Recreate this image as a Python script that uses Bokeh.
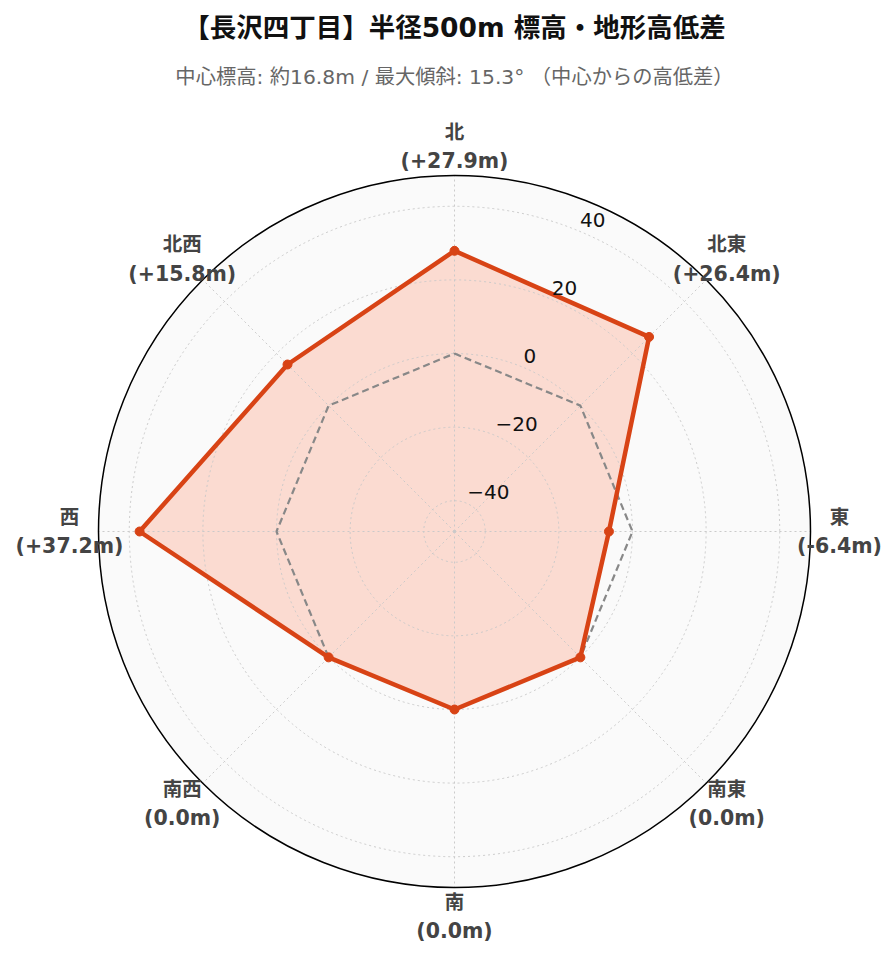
import numpy as np
from bokeh.plotting import figure
from bokeh.models import Range1d
from bokeh.embed import file_html
from bokeh.resources import INLINE
from bokeh.core.properties import value

# ---------------- data ----------------
title_text = "【長沢四丁目】半径500m 標高・地形高低差"
subtitle_text = "中心標高: 約16.8m / 最大傾斜: 15.3° （中心からの高低差）"
directions = ["北", "北東", "東", "南東", "南", "南西", "西", "北西"]
elev_diff = [27.9, 26.4, -6.4, 0.0, 0.0, 0.0, 37.2, 15.8]
zero_ref = [0.0] * 8
radial_ticks = [-40, -20, 0, 20, 40]
radial_tick_labels = ["−40", "−20", "0", "20", "40"]

# ---------------- layout ----------------
RMAX = 48.36
RMIN = -48.36
W, H = 892, 958
CX, CY = 454, 531          # polar centre in canvas px (from top-left)
R_PX = 356                 # outer radius in px
SPAN = RMAX - RMIN
S = R_PX / SPAN            # px per data unit
FONT = "DejaVu Sans, Noto Sans CJK JP"

LINE_COLOR = "#D84315"
FILL_COLOR = "#FF5722"

p = figure(width=W, height=H, output_backend="svg", toolbar_location=None,
           x_range=Range1d(-CX / S, (W - CX) / S),
           y_range=Range1d(-(H - CY) / S, CY / S),
           min_border=0, match_aspect=False)
p.axis.visible = False
p.grid.visible = False
p.outline_line_color = None
p.background_fill_color = "white"
p.border_fill_color = "white"

theta = np.deg2rad(np.arange(8) * 45.0)   # clockwise from north


def to_xy(vals, ang=theta):
    d = np.asarray(vals, dtype=float) - RMIN
    return d * np.sin(ang), d * np.cos(ang)


# background disc
p.circle(x=[0], y=[0], radius=SPAN, fill_color="#fafafa", line_color=None)

# data polygon fill
xs, ys = to_xy(elev_diff)
p.patch(x=list(xs), y=list(ys), fill_color=FILL_COLOR, fill_alpha=0.19, line_color=None)

# grid circles
for t in radial_ticks:
    p.circle(x=[0], y=[0], radius=t - RMIN, fill_color=None,
             line_color="#c8c8c8", line_width=1, line_dash="2 3", line_alpha=0.95)

# angular grid lines
ox, oy = to_xy([RMAX] * 8)
p.segment(x0=[0] * 8, y0=[0] * 8, x1=list(ox), y1=list(oy),
          line_color="#c8c8c8", line_width=1, line_dash="2 3", line_alpha=0.95)

# zero reference (dashed)
zx, zy = to_xy(zero_ref)
p.line(x=list(zx) + [zx[0]], y=list(zy) + [zy[0]], line_color="#888888",
       line_width=2.2, line_dash="7 4")

# data line + markers
p.line(x=list(xs) + [xs[0]], y=list(ys) + [ys[0]], line_color=LINE_COLOR,
       line_width=4.5, line_join="round")
p.scatter(x=list(xs), y=list(ys), size=9, fill_color=LINE_COLOR, line_color=LINE_COLOR)

# outer circle
p.circle(x=[0], y=[0], radius=SPAN, fill_color=None, line_color="black", line_width=1.5)

# radial tick labels (along 22.5 deg)
ang_t = np.deg2rad(22.5)
tx = [(t - RMIN) * np.sin(ang_t) for t in radial_ticks]
ty = [(t - RMIN) * np.cos(ang_t) for t in radial_ticks]
p.text(x=tx, y=ty, text=radial_tick_labels, text_font=value(FONT),
       text_font_size="20px", text_color="#111111", text_align="left",
       text_baseline="alphabetic", x_offset=1, y_offset=-11)

# angular labels
LAB_R = 385 / S
lx = [LAB_R * np.sin(a) for a in theta]
ly = [LAB_R * np.cos(a) for a in theta]
val_labels = [("(0.0m)" if v == 0 else f"({v:+.1f}m)") for v in elev_diff]
p.text(x=lx, y=ly, text=directions, text_font=value(FONT), text_font_size="19.5px",
       text_font_style="bold", text_color="#444444", text_align="center",
       text_baseline="middle", y_offset=-14.5)
p.text(x=lx, y=ly, text=val_labels, text_font=value(FONT), text_font_size="20.5px",
       text_font_style="bold", text_color="#444444", text_align="center",
       text_baseline="middle", y_offset=14.5)

# titles
p.text(x=[0], y=[(CY - 27) / S], text=[title_text], text_font=value(FONT),
       text_font_size="26.5px", text_font_style="bold", text_color="#111111",
       text_align="center", text_baseline="middle")
p.text(x=[0], y=[(CY - 76) / S], text=[subtitle_text], text_font=value(FONT),
       text_font_size="20.3px", text_color="#666666",
       text_align="center", text_baseline="middle")

open("out.html", "w").write(file_html(p, INLINE))
